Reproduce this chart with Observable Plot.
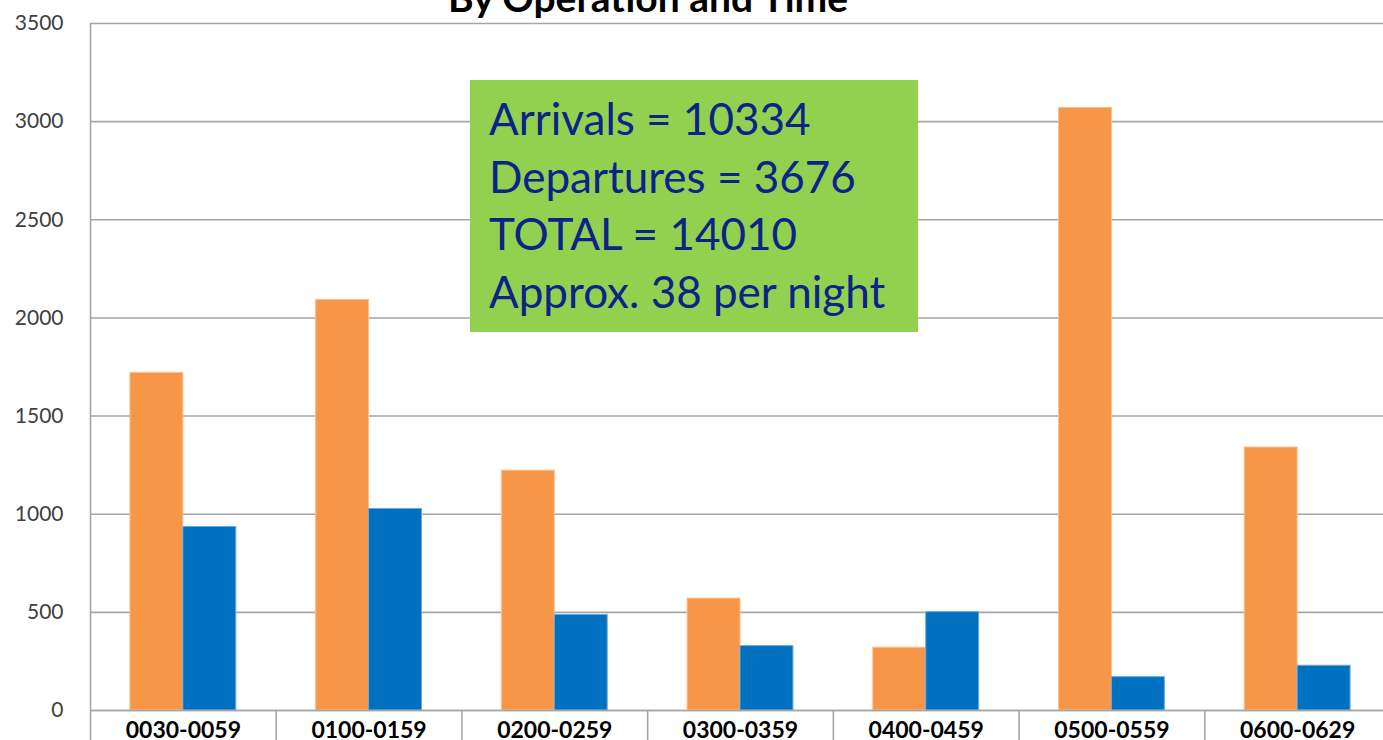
<!DOCTYPE html>
<html>
<head>
<meta charset="utf-8">
<script src="https://cdn.jsdelivr.net/npm/d3@7"></script>
<script src="https://cdn.jsdelivr.net/npm/@observablehq/plot@0.6"></script>
<style>
  html, body { margin: 0; padding: 0; background: #fff; overflow: hidden; width: 1383px; height: 740px; }
  #wrap { position: relative; width: 1383px; height: 740px; overflow: hidden; }
  #title { position: absolute; left: 0; width: 1296px; top: -23px; text-align: center;
           font-family: Lato, "Open Sans", sans-serif; font-weight: bold; font-size: 39px; line-height: 40px; color: #000; }
  #note { position: absolute; left: 470px; top: 80px; width: 448px; height: 252px; background: #92D050;
          box-sizing: border-box; padding: 10px 0 0 19px; font-family: Lato, "Open Sans", sans-serif;
          font-size: 44px; line-height: 57.5px; color: #0c2389; white-space: nowrap; }
  #chart { position: absolute; left: 0; top: 0; }
  #chart svg { max-width: none !important; }
  #chart svg g[aria-label="y-axis tick label"] text { font-size: 21px; fill: #404040; }
  #chart svg g[aria-label="x-axis tick label"] text { font-size: 23px; font-weight: bold; fill: #000; }
</style>
</head>
<body>
<div id="wrap">
  <div id="chart"></div>
  <div id="title">By Operation and Time</div>
  <div id="note">Arrivals = 10334<br>Departures = 3676<br>TOTAL = 14010<br>Approx. 38 per night</div>
</div>
<script>
const categories = ["0030-0059", "0100-0159", "0200-0259", "0300-0359", "0400-0459", "0500-0559", "0600-0629"];
const arrivals   = [1720, 2092, 1222, 570, 320, 3070, 1340];
const departures = [935, 1027, 487, 328, 501, 170, 228];
const yTicks = [0, 500, 1000, 1500, 2000, 2500, 3000, 3500];

const arrData = categories.map((c, i) => ({cat: c, value: arrivals[i]}));
const depData = categories.map((c, i) => ({cat: c, value: departures[i]}));

const width = 1390, height = 740;
const marginLeft = 90, marginRight = 0, marginTop = 23, marginBottom = 30;
const step = (width - marginLeft - marginRight) / categories.length;
const barW = step * 0.285;
const outer = step / 2 - barW;
const plotH = height - marginTop - marginBottom;

const chart = Plot.plot({
  width, height, marginLeft, marginRight, marginTop, marginBottom,
  style: {fontFamily: "Lato, 'Open Sans', sans-serif", background: "white", overflow: "visible", maxWidth: "none"},
  x: {domain: categories, padding: 0, round: false, tickSize: 0, tickPadding: 11, label: null},
  y: {domain: [0, 3500], ticks: yTicks, tickFormat: d => String(d), tickSize: 0, tickPadding: 27, label: null},
  marks: [
    Plot.ruleY(yTicks, {stroke: "#a6a6a6", strokeWidth: 1.6}),
    Plot.barY(arrData, {x: "cat", y: "value", fill: "#F79646", stroke: "#FAC08F", strokeWidth: 1,
      insetLeft: outer, insetRight: step / 2}),
    Plot.barY(depData, {x: "cat", y: "value", fill: "#0070C0", stroke: "#6FA8DC", strokeWidth: 1,
      insetLeft: step / 2, insetRight: outer}),
    Plot.ruleX([categories[0]], {x: d => d, dx: -step / 2, stroke: "#a6a6a6", strokeWidth: 1.6, insetBottom: -30}),
    Plot.ruleX(categories.slice(1), {x: d => d, dx: -step / 2, stroke: "#a6a6a6", strokeWidth: 1.6,
      insetTop: plotH, insetBottom: -30}),
    Plot.ruleY([0], {stroke: "#a6a6a6", strokeWidth: 1.6})
  ]
});
document.getElementById("chart").appendChild(chart);
</script>
</body>
</html>
